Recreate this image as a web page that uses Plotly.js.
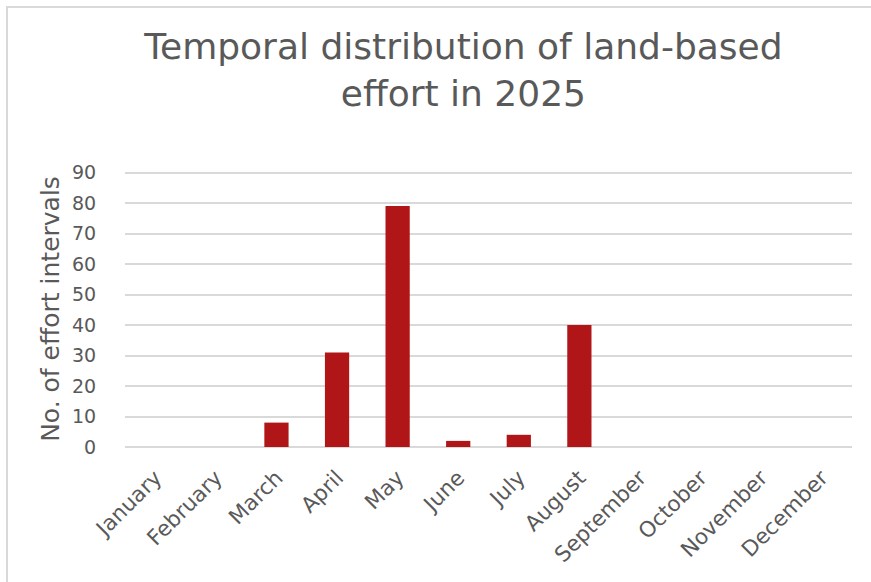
<!DOCTYPE html>
<html>
<head>
<meta charset="utf-8">
<script src="https://cdn.plot.ly/plotly-3.0.1.min.js"></script>
<style>
html,body{margin:0;padding:0;background:#fff;}
#wrap{position:relative;width:871px;height:582px;}
#chart{width:871px;height:582px;}
#frame{position:absolute;left:6px;top:6px;right:0;bottom:0;border-top:2px solid #d9d9d9;border-left:2px solid #d9d9d9;pointer-events:none;}
</style>
</head>
<body>
<div id="wrap"><div id="chart"></div><div id="frame"></div></div>
<script>
const months = ["January","February","March","April","May","June","July","August","September","October","November","December"];
const effortIntervals = [0, 0, 8, 31, 79, 2, 4, 40, 0, 0, 0, 0];
const yTicks = [0,10,20,30,40,50,60,70,80,90];
const chartTitle = "Temporal distribution of land-based<br>effort in 2025";
const yTitle = "No. of effort intervals";

const fontFam = "'DejaVu Sans', sans-serif";
const grey = "#595959";

Plotly.newPlot("chart", [{
  type: "bar",
  x: months,
  y: effortIntervals,
  marker: {color: "#B01517", line: {width: 0}},
  hoverinfo: "x+y"
}], {
  width: 871, height: 582,
  margin: {l: 125, r: 19, t: 170.5, b: 135},
  paper_bgcolor: "#fff", plot_bgcolor: "#fff",
  bargap: 0.6,
  showlegend: false,
  title: {
    text: chartTitle,
    font: {family: fontFam, size: 36, color: grey},
    x: 0.532, xanchor: "center",
    y: 0.899, yanchor: "top"
  },
  xaxis: {
    type: "category",
    tickangle: -45,
    tickfont: {family: fontFam, size: 21.5, color: grey},
    showgrid: false,
    showline: false,
    zeroline: false,
    ticks: "",
    ticklabelstandoff: 13
  },
  yaxis: {
    range: [0, 90.5],
    tickvals: yTicks,
    ticktext: yTicks.map(String),
    tickfont: {family: fontFam, size: 19, color: grey},
    gridcolor: "#d9d9d9",
    gridwidth: 1.5,
    zeroline: true,
    zerolinecolor: "#d9d9d9",
    zerolinewidth: 1.5,
    showline: false,
    ticks: "outside",
    ticklen: 24,
    tickcolor: "rgba(0,0,0,0)",
    title: {text: yTitle, font: {family: fontFam, size: 25, color: grey}, standoff: 5}
  }
}, {displayModeBar: false});
</script>
</body>
</html>
